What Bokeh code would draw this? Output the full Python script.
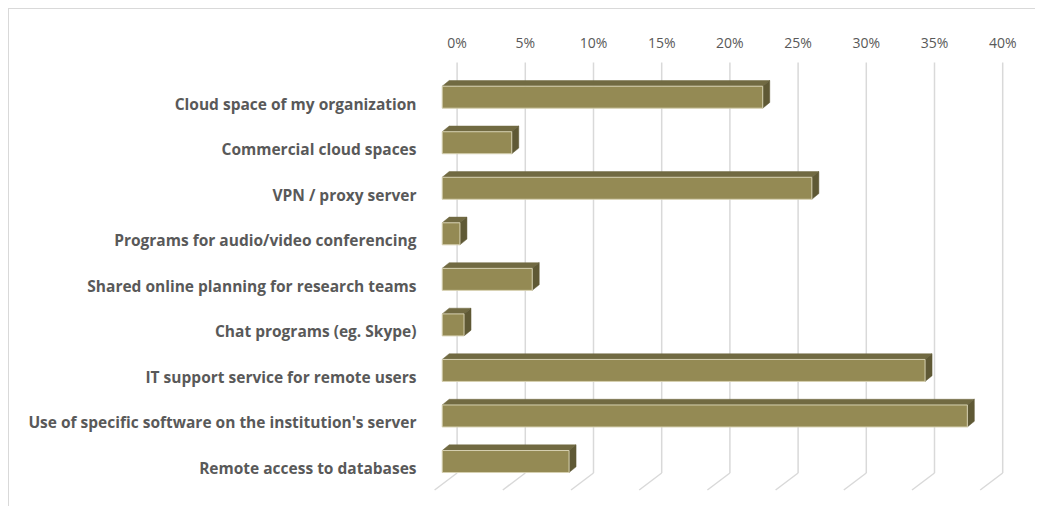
from bokeh.plotting import figure
from bokeh.models import Range1d, LinearAxis, FixedTicker
from bokeh.embed import file_html
from bokeh.resources import INLINE

# ---------------- data ----------------
categories = [
    "Cloud space of my organization",
    "Commercial cloud spaces",
    "VPN / proxy server",
    "Programs for audio/video conferencing",
    "Shared online planning for research teams",
    "Chat programs (eg. Skype)",
    "IT support service for remote users",
    "Use of specific software on the institution's server",
    "Remote access to databases",
]
values = [23.5, 5.1, 27.1, 1.3, 6.6, 1.6, 35.4, 38.5, 9.3]
ticks = [0, 5, 10, 15, 20, 25, 30, 35, 40]
tick_labels = ["0%", "5%", "10%", "15%", "20%", "25%", "30%", "35%", "40%"]

# ---------------- layout constants (pixels) ----------------
W, H = 1027, 498
PX_X = 13.64          # pixels per percent
PX_Y = 45.54          # pixels per category row
FRONT0 = 441.7        # page x of 0% on bar front plane
ROW0 = 96.7           # page y of first bar centre
ORIG_X, ORIG_Y = 9, 9  # page position of canvas origin
FRAME_L, FRAME_R, FRAME_T, FRAME_B = 425, 1030, 58, 500  # page coords

BACK_DX, BACK_DY = 14.9, -11.3   # back plane offset from bar front plane
FLOOR_DX, FLOOR_DY = -22.5, 17.0  # floor front offset from back plane
BAR_H = 22.0
DEPTH_DX, DEPTH_DY = 7.0, -5.7
LABEL_DY = 6.5
GRID_TOP, GRID_BOT = 62.0, 472.5

def xf(px):  # page px -> front-plane data
    return (px - FRONT0) / PX_X

def yf(py):
    return (py - ROW0) / PX_Y

x0, x1 = xf(FRAME_L), xf(FRAME_R)
y_top, y_bot = yf(FRAME_T), yf(FRAME_B)
back_shift = BACK_DX / PX_X

p = figure(width=W, height=H, output_backend="svg", toolbar_location=None,
           x_range=Range1d(x0, x1), y_range=Range1d(y_bot, y_top),
           x_axis_location=None, y_axis_location=None,
           min_border_left=FRAME_L - ORIG_X, min_border_right=W - (FRAME_R - ORIG_X),
           min_border_top=FRAME_T - ORIG_Y, min_border_bottom=H - (FRAME_B - ORIG_Y))
p.outline_line_color = None
p.background_fill_color = "white"
p.border_fill_color = "white"
p.grid.grid_line_color = None
p.styles = {"margin-left": "8px", "margin-top": "8px",
            "border-top": "1px solid #d9d9d9", "border-left": "1px solid #d9d9d9"}

p.extra_x_ranges = {"back": Range1d(x0 - back_shift, x1 - back_shift)}
lab_shift = LABEL_DY / PX_Y
p.extra_y_ranges = {"lab": Range1d(y_bot - lab_shift, y_top - lab_shift)}

# ---------------- gridlines (back plane + floor) ----------------
g_top = yf(GRID_TOP)
g_bot = yf(GRID_BOT)
g_floor = yf(GRID_BOT + FLOOR_DY)
fdx = FLOOR_DX / PX_X
p.segment(x0=ticks, x1=ticks, y0=[g_top] * len(ticks), y1=[g_bot] * len(ticks),
          x_range_name="back", line_color="#d9d9d9", line_width=1.5)
p.segment(x0=ticks, x1=[t + fdx for t in ticks], y0=[g_bot] * len(ticks),
          y1=[g_floor] * len(ticks), x_range_name="back", line_color="#d9d9d9", line_width=1.5)

# ---------------- 3D bars ----------------
idx = list(range(len(categories)))
h = BAR_H / PX_Y
ddx = DEPTH_DX / PX_X
ddy = DEPTH_DY / PX_Y
top_xs, top_ys, side_xs, side_ys = [], [], [], []
for i, v in zip(idx, values):
    t, b = i - h / 2, i + h / 2
    top_xs.append([0, v, v + ddx, ddx])
    top_ys.append([t, t, t + ddy, t + ddy])
    side_xs.append([v, v + ddx, v + ddx, v])
    side_ys.append([t, t + ddy, b + ddy, b])

p.patches(top_xs, top_ys, fill_color="#716a42", line_color="#716a42", line_width=0.5)
p.patches(side_xs, side_ys, fill_color="#5f5935", line_color="#5f5935", line_width=0.5)
p.quad(left=[0] * len(values), right=values,
       top=[i - h / 2 for i in idx], bottom=[i + h / 2 for i in idx],
       fill_color="#948a54", line_color="#d6d0b0", line_width=1)

# ---------------- axes ----------------
top_axis = LinearAxis(x_range_name="back", ticker=FixedTicker(ticks=ticks),
                      major_label_overrides={t: l for t, l in zip(ticks, tick_labels)})
top_axis.axis_line_color = None
top_axis.major_tick_line_color = None
top_axis.minor_tick_line_color = None
top_axis.major_label_standoff = 1
top_axis.major_label_text_font = "Open Sans"
top_axis.major_label_text_font_size = "14px"
top_axis.major_label_text_color = "#595959"
p.add_layout(top_axis, "above")

left_axis = LinearAxis(y_range_name="lab", ticker=FixedTicker(ticks=idx),
                       major_label_overrides={i: c for i, c in zip(idx, categories)})
left_axis.axis_line_color = None
left_axis.major_tick_line_color = None
left_axis.minor_tick_line_color = None
left_axis.major_label_standoff = 3
left_axis.major_label_text_font = "Open Sans"
left_axis.major_label_text_font_style = "bold"
left_axis.major_label_text_font_size = "15.5px"
left_axis.major_label_text_color = "#595959"
p.add_layout(left_axis, "left")

open("out.html", "w").write(file_html(p, INLINE))
